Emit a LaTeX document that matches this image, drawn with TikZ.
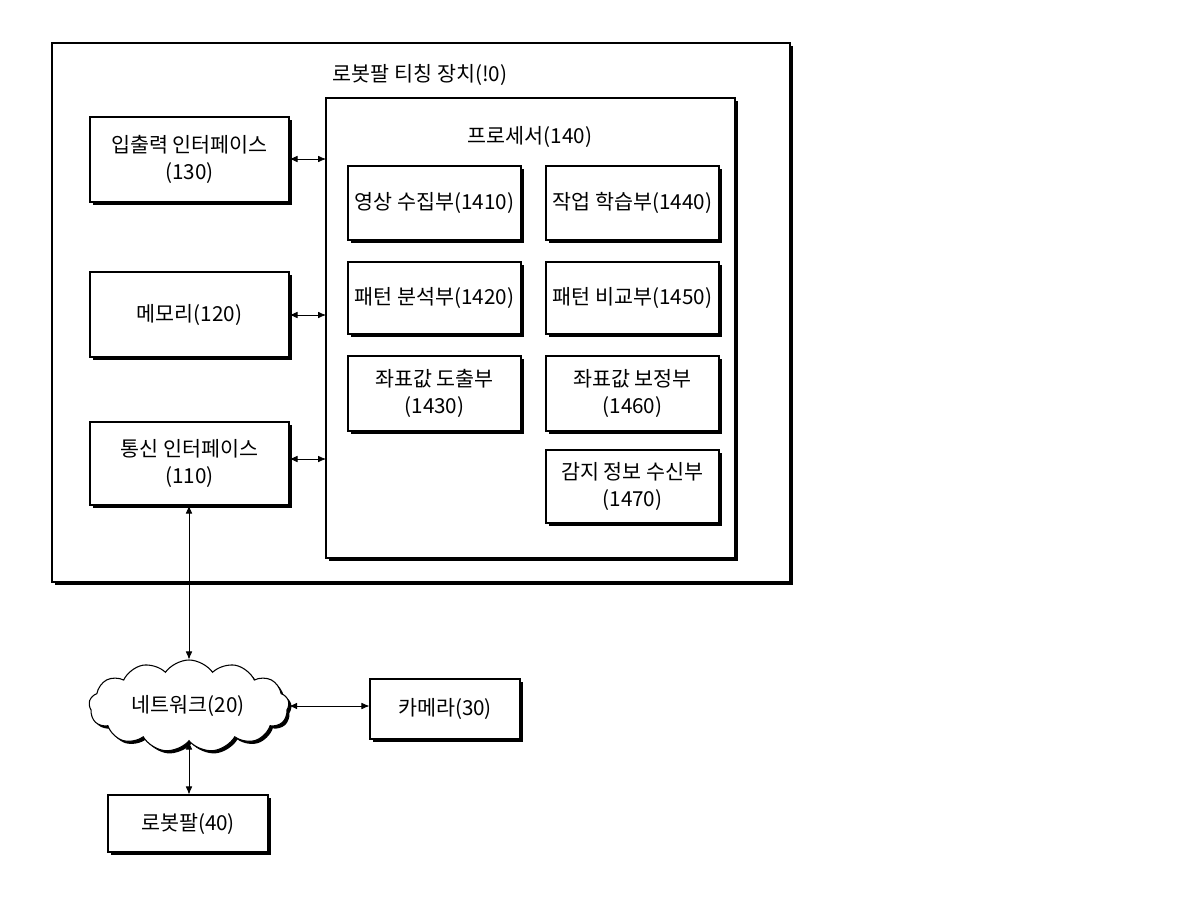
\documentclass[tikz,border=0pt]{standalone}
\usepackage{fontspec}
\setmainfont{Noto Sans CJK KR}
\usetikzlibrary{arrows.meta,shadows,shapes.symbols}
\begin{document}
\begin{tikzpicture}[x=0.75pt,y=-0.75pt,
  font=\fontsize{15.5}{20}\selectfont,
  sh/.style={draw=black,line width=0.8pt,fill=white,drop shadow={opacity=1,fill=black,shadow xshift=2pt,shadow yshift=-2pt}},
  bx/.style={sh,align=center,inner sep=0pt},
  ar/.style={{Latex[length=6pt,width=5pt]}-{Latex[length=6pt,width=5pt]},line width=0.6pt}]
\useasboundingbox (0,0) rectangle (1200,900);
\node[sh,minimum width=738*0.75pt,minimum height=539*0.75pt,inner sep=0pt] (outer) at (421,312.5) {};
\node (title) at (420,75) {로봇팔 티칭 장치(!0)};
\node[sh,minimum width=409*0.75pt,minimum height=460*0.75pt,inner sep=0pt] (proc) at (530.5,328) {};
\node (ptitle) at (530,137) {프로세서(140)};
\node[bx,minimum width=199*0.75pt,minimum height=85*0.75pt] (io) at (189.5,159.5) {입출력 인터페이스\\(130)};
\node[bx,minimum width=199*0.75pt,minimum height=85*0.75pt] (mem) at (189.5,314.5) {메모리(120)};
\node[bx,minimum width=199*0.75pt,minimum height=83*0.75pt] (comm) at (189.5,463.5) {통신 인터페이스\\(110)};
\foreach \n/\x/\y/\h/\t in {a/434.5/203/74/영상 수집부(1410), b/434.5/298/72/패턴 분석부(1420), c/434.5/393.5/75/좌표값 도출부\\(1430),
  d/632.5/203/74/작업 학습부(1440), e/632.5/298/72/패턴 비교부(1450), f/632.5/393.5/75/좌표값 보정부\\(1460), g/632.5/486.5/73/감지 정보 수신부\\(1470)}
  \node[bx,minimum width=173*0.75pt,minimum height=\h*0.75pt] (\n) at (\x,\y) {\t};
\coordinate (p1) at (326,159); \coordinate (p2) at (326,315); \coordinate (p3) at (326,459);
\draw[ar] (io.east |- p1) -- (p1);
\draw[ar] (mem.east |- p2) -- (p2);
\draw[ar] (comm.east |- p3) -- (p3);
\node[cloud,cloud puffs=13,cloud puff arc=110,aspect=2.3,sh,minimum width=200*0.75pt,minimum height=92*0.75pt,inner sep=0pt] (net) at (189,706) {};
\node at (188,706) {네트워크(20)};
\node[bx,minimum width=150*0.75pt,minimum height=60*0.75pt] (cam) at (445,709) {카메라(30)};
\node[bx,minimum width=160*0.75pt,minimum height=57*0.75pt] (robot) at (188,823.5) {로봇팔(40)};
\draw[ar] (comm.south -| net.north) -- (net.north);
\draw[ar] (net.east) -- (cam.west |- net.east);
\draw[ar] (net.south) -- (robot.north -| net.south);
\end{tikzpicture}
\end{document}
